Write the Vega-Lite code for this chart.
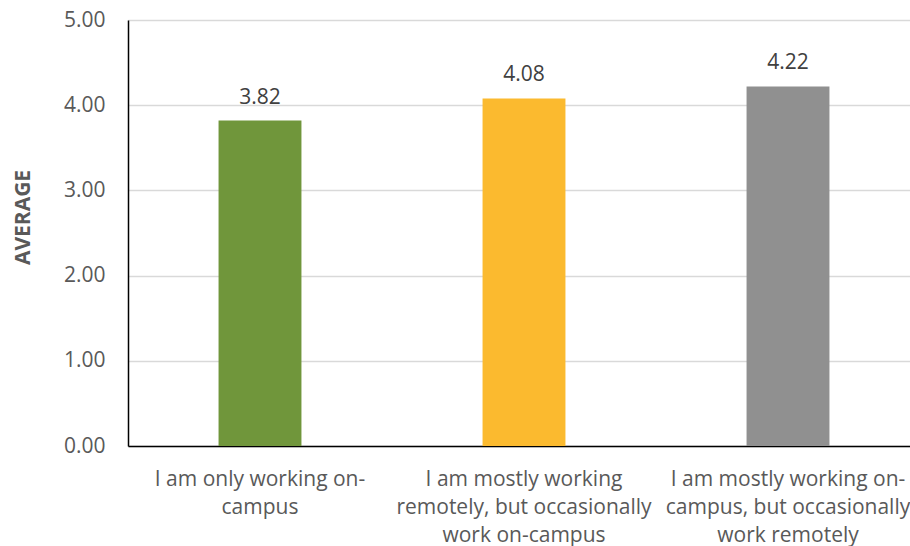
{
  "$schema": "https://vega.github.io/schema/vega-lite/v6.json",
  "autosize": "none",
  "width": 792,
  "height": 426,
  "padding": {"left": 128, "top": 20, "right": 0, "bottom": 100},
  "background": "white",
  "config": {
    "view": {"stroke": null},
    "font": "Open Sans",
    "axis": {"labelFont": "Open Sans", "titleFont": "Open Sans"}
  },
  "data": {
    "values": [
      {"group": "I am only working on-\ncampus", "average": 3.82, "color": "#70963B"},
      {"group": "I am mostly working\nremotely, but occasionally\nwork on-campus", "average": 4.08, "color": "#FBBA2F"},
      {"group": "I am mostly working on-\ncampus, but occasionally\nwork remotely", "average": 4.22, "color": "#909090"}
    ]
  },
  "encoding": {
    "x": {
      "field": "group",
      "type": "nominal",
      "sort": null,
      "scale": {"paddingInner": 0.686, "paddingOuter": 0.343},
      "axis": {
        "title": null,
        "labelAngle": 0,
        "labelExpr": "split(datum.label, '\\n')",
        "labelFontSize": 21,
        "labelColor": "#595959",
        "labelLineHeight": 28,
        "labelPadding": 39,
        "labelBaseline": "alphabetic",
        "labelLimit": 0,
        "ticks": false,
        "domainColor": "#000000",
        "domainWidth": 1.5,
        "grid": false
      }
    },
    "y": {
      "field": "average",
      "type": "quantitative",
      "scale": {"domain": [0, 5], "nice": false},
      "axis": {
        "title": "AVERAGE",
        "titleFontSize": 21,
        "titleFontWeight": "bold",
        "titleColor": "#595959",
        "titleAngle": -90,
        "titleX": -105,
        "titleY": 197,
        "titleAlign": "center",
        "titleBaseline": "middle",
        "values": [0, 1, 2, 3, 4, 5],
        "format": ".2f",
        "labelFontSize": 21,
        "labelColor": "#595959",
        "labelPadding": 23,
        "ticks": false,
        "domainColor": "#000000",
        "domainWidth": 1.5,
        "gridColor": "#D9D9D9",
        "gridWidth": 1.5
      }
    }
  },
  "layer": [
    {
      "mark": {"type": "bar"},
      "encoding": {
        "color": {"field": "color", "type": "nominal", "scale": null, "legend": null}
      }
    },
    {
      "mark": {"type": "text", "baseline": "alphabetic", "dy": -17, "fontSize": 21, "color": "#404040"},
      "encoding": {
        "text": {"field": "average", "type": "quantitative", "format": ".2f"}
      }
    }
  ]
}
